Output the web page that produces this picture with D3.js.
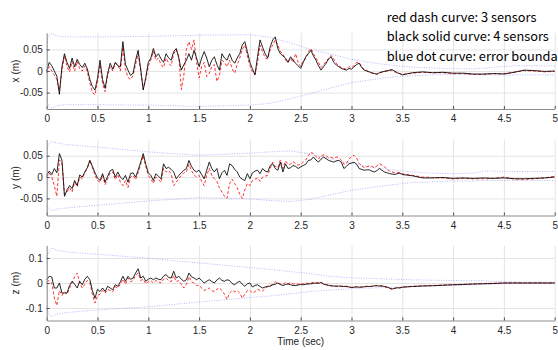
<!DOCTYPE html>
<html>
<head>
<meta charset="utf-8">
<script src="https://cdn.jsdelivr.net/npm/d3@7"></script>
<style>
body { margin: 0; background: #fff; }
svg { display: block; }
.tick text { font-family: "Liberation Sans", Arial, sans-serif; font-size: 10px; fill: #262626; }
.grid line { stroke: #e4e4e4; }
.grid .domain { display: none; }
.ax .domain { stroke: #8c8c8c; }
.ax .tick line { stroke: #4d4d4d; }
</style>
</head>
<body>
<div id="chart"></div>
<script>
var width = 558;
var height = 350;

// sample times: 0..3.5 every 0.025 s, then 3.6..5.0 every 0.1 s
const time = d3.range(141).map(i => i * 0.025).concat(d3.range(1, 16).map(i => 3.5 + i * 0.1));
// boundary sample times
const tBound = [0, 0.02, 0.05, 0.1, 0.2, 0.5, 1.0, 1.5, 2.0, 2.2, 2.4, 2.6, 2.8, 3.0, 3.2, 3.4, 3.6, 3.8, 4.0, 4.2, 4.3, 4.4, 4.6, 5.0];

const timeTicks = [0, 0.5, 1, 1.5, 2, 2.5, 3, 3.5, 4, 4.5, 5];
const ticksXY = [-0.05, 0, 0.05];
const ticksZ = [-0.1, 0, 0.1];
const notes = ["red dash curve: 3 sensors", "black solid curve: 4 sensors", "blue dot curve: error boundary"];

// ---- x (m) ----
const blackX = [
  0, .02, .012, 0, -.012, -.054, .01, .04, .02, .006,
  .03, .01, .027, .015, .008, .018, .005, -.02, -.036, -.044,
  -.017, .025, -.02, -.04, -.005, .018, .004, .02, .012, .01,
  .068, .015, .002, -.01, -.005, .025, .048, .005, -.044, -.015,
  .02, .03, .052, .033, .04, .028, .02, .04, .03, .025,
  .045, .052, .03, .002, .015, .025, .04, .025, .048, .03,
  .01, .03, .045, .03, .01, .025, .033, .015, .002, .04,
  .03, .025, .04, .025, .018, .03, .04, .06, .068, .045,
  .02, .005, -.009, .033, .072, .055, .04, .03, .056, .072,
  .079, .052, .04, .035, .03, .02, .033, .025, .018, .012,
  .006, .02, .033, .04, .048, .035, .025, .012, .002, .01,
  .018, .028, .033, .02, .014, .01, .006, .004, .002, .006,
  .004, .01, .015, .018, .008, .002, 0, -.002, -.004, -.006,
  -.007, -.004, -.002, -.001, 0, .002, .003, 0, -.004, -.006,
  -.009,
  -.004, -.002, -.004, -.003, -.005, -.005, -.007, -.007, -.006, -.007, -.003, .002, .001, -.001, 0
];
const redX = [
  -.005, .01, 0, -.01, -.02, -.045, 0, .035, .01, -.002,
  .022, 0, .022, .005, 0, .012, -.002, -.028, -.05, -.055,
  -.025, .015, -.03, -.048, -.01, .01, 0, .018, .015, 0,
  .055, .005, -.015, -.02, -.01, .015, .04, 0, -.042, -.02,
  .012, .025, .045, .025, .03, .015, .008, .03, .018, .012,
  .04, .05, .035, -.043, -.01, .05, .068, .05, .072, .02,
  -.016, .01, .02, -.013, -.005, .01, .015, -.024, -.01, .025,
  .02, .01, .025, .005, -.005, .015, .03, .05, .06, .035,
  .012, -.002, -.008, .02, .06, .045, .03, .028, .05, .06,
  .072, .06, .045, .04, .025, .02, .03, .02, .04, .02,
  .01, .025, .028, .045, .052, .04, .03, .02, .008, .015,
  .022, .03, .036, .028, .018, .012, .008, .006, .004, .01,
  .008, .012, .02, .02, .01, .004, .001, -.003, -.005, -.006,
  -.008, -.005, -.003, 0, .001, .002, .002, -.002, -.005, -.006,
  -.008,
  -.005, -.003, -.004, -.004, -.006, -.006, -.008, -.008, -.006, -.006, -.003, .001, 0, -.002, -.001
];
const upperX = [.066, .082, .087, .081, .079, .079, .080, .083, .084, .078, .065, .050, .039, .027, .019, .013, .009, .007, .005, .005, .006, .009, .012, .012];
const lowerX = [-.066, -.082, -.086, -.080, -.078, -.078, -.079, -.082, -.079, -.075, -.064, -.052, -.039, -.027, -.020, -.014, -.011, -.009, -.008, -.008, -.009, -.009, -.009, -.009];

// ---- y (m) ----
const blackY = [
  .004, .014, .006, .02, .01, .055, .04, -.045, -.03, -.02,
  -.027, -.008, -.02, .005, 0, .012, .022, .039, .025, .01,
  -.002, -.008, .008, -.012, .002, .015, .018, 0, .012, 0,
  -.006, .004, -.012, .008, .01, 0, .016, .035, .055, .03,
  .01, .004, -.008, .008, .002, -.004, .031, .02, .023, .018,
  .012, -.004, .004, .01, .016, .02, .039, .025, .016, .012,
  .016, .006, -.004, .016, .035, .02, .012, .02, -.004, .01,
  .016, .004, .031, .027, .018, .012, 0, -.005, -.008, .008,
  -.004, .01, .014, .016, .008, .02, .014, .012, .027, .031,
  .02, .016, .035, .012, .031, .02, .022, .027, .025, .02,
  .024, .027, .03, .039, .04, .047, .04, .035, .042, .047,
  .043, .039, .037, .035, .038, .039, .035, .02, .025, .031,
  .033, .035, .03, .02, .018, .016, .017, .017, .014, .012,
  .015, .02, .016, .012, .01, .008, .007, .006, .008, .009,
  .006,
  .003, -.002, -.002, -.001, -.003, -.002, -.003, -.002, -.003, -.002, -.004, -.004, -.003, -.002, 0
];
const redY = [
  0, .01, 0, -.02, -.045, .04, .035, -.04, -.035, -.025,
  -.035, -.012, -.022, 0, -.004, .01, .02, .04, .022, .005,
  -.008, -.012, .004, -.018, -.004, .01, .012, -.006, .006, -.012,
  -.02, -.008, -.025, 0, .004, -.006, .01, .03, .05, .025,
  .004, -.004, -.015, 0, -.006, -.012, .02, .012, .015, .008,
  -.02, -.012, -.004, .004, .01, .012, .03, .015, .005, 0,
  .004, -.01, -.02, .004, .02, .004, -.004, -.01, -.025, -.035,
  -.045, -.05, -.015, -.005, -.015, -.025, -.04, -.05, -.03, -.015,
  -.02, -.008, -.005, -.002, -.01, 0, .002, .004, .02, .035,
  .025, .022, .04, .02, .038, .03, .03, .036, .032, .028,
  .03, .035, .04, .05, .058, .055, .048, .042, .05, .052,
  .05, .045, .046, .044, .047, .045, .04, .03, .032, .042,
  .048, .051, .045, .032, .026, .022, .024, .026, .025, .022,
  .026, .031, .028, .024, .018, .014, .012, .01, .01, .011,
  .008,
  .004, 0, -.001, -.002, -.004, -.003, -.004, -.004, -.003, 0, -.004, -.005, -.004, -.002, .002
];
const upperY = [.066, .078, .083, .080, .076, .070, .059, .051, .056, .059, .061, .054, .042, .032, .023, .017, .012, .009, .008, .009, .014, .014, .013, .013];
const lowerY = [-.066, -.074, -.078, -.075, -.072, -.066, -.056, -.048, -.051, -.055, -.057, -.052, -.041, -.031, -.024, -.018, -.013, -.011, -.009, -.009, -.008, -.008, -.008, -.008];

// ---- z (m) ----
const blackZ = [
  .013, .027, .024, -.02, -.02, 0, -.04, -.04, -.04, -.01,
  .007, -.005, -.02, .007, -.007, .015, .027, .013, -.03, -.061,
  -.025, -.034, -.02, -.034, -.013, -.02, -.027, -.007, -.013, .005,
  .027, .007, .027, .015, .02, .04, .057, .02, .027, .007,
  .015, .02, .013, .02, .015, .013, .027, .034, .022, .02,
  .047, .02, .027, .015, .007, .013, .04, .025, .02, .013,
  .02, .01, 0, .007, .013, .006, 0, .012, .02, .01,
  .007, .013, .01, -.002, -.007, .002, .007, -.005, -.013, -.003,
  0, -.016, -.01, -.007, -.014, -.02, -.016, -.013, -.013, -.007,
  -.005, 0, -.006, -.01, -.006, -.004, -.007, -.01, -.01, -.008,
  -.006, -.007, -.005, -.004, -.003, -.002, 0, -.002, .002, -.005,
  -.007, -.009, -.011, -.012, -.013, -.012, -.013, -.014, -.013, -.016,
  -.018, -.017, -.016, -.017, -.016, -.015, -.013, -.014, -.013, -.011,
  -.011, -.012, -.011, -.014, -.016, -.02, -.024, -.021, -.019, -.02,
  -.017,
  -.014, -.012, -.011, -.009, -.007, -.006, -.004, -.003, -.002, 0, 0, 0, 0, 0, 0
];
const redZ = [
  .005, .01, 0, -.06, -.09, -.03, -.05, -.035, -.045, -.02,
  0, .025, .04, 0, -.02, -.005, .01, 0, -.045, -.08,
  -.05, -.045, -.03, -.04, -.025, -.03, -.035, -.015, -.02, -.005,
  .015, -.005, .02, .005, .01, .03, .04, .01, .015, -.003,
  .005, .01, 0, .01, .005, 0, .015, .02, .01, .005,
  .03, .005, .01, -.005, -.02, -.005, .025, .005, 0, -.01,
  -.01, -.02, -.03, -.025, -.02, -.03, -.035, -.025, -.02, -.03,
  -.045, -.066, -.04, -.03, -.035, -.03, -.04, -.06, -.045, -.03,
  -.03, -.04, -.035, -.025, -.03, -.032, -.022, -.015, -.01, -.005,
  .005, 0, -.004, -.006, .002, -.003, .002, -.004, -.003, -.005,
  -.002, -.004, 0, -.002, 0, .003, .001, .002, .004, -.003,
  -.006, -.01, -.011, -.013, -.012, -.014, -.013, -.012, -.015, -.016,
  -.017, -.016, -.014, -.016, -.017, -.016, -.014, -.015, -.013, -.012,
  -.01, -.012, -.013, -.015, -.018, -.022, -.025, -.022, -.018, -.019,
  -.016,
  -.013, -.011, -.01, -.008, -.007, -.005, -.004, -.002, -.001, 0, .001, 0, .001, 0, 0
];
const upperZ = [.100, .125, .140, .132, .124, .115, .099, .080, .062, .054, .046, .037, .026, .021, .018, .015, .013, .011, .010, .009, .009, .006, .004, .003];
const lowerZ = [-.095, -.125, -.135, -.125, -.118, -.108, -.095, -.076, -.058, -.052, -.043, -.034, -.028, -.023, -.020, -.017, -.014, -.011, -.009, -.007, -.006, -.004, -.002, -.001];

const panels = [
  {label: "x (m)", top: 33, h: 76, dom: [-0.088, 0.088], ticks: ticksXY, red: redX, black: blackX, up: upperX, lo: lowerX},
  {label: "y (m)", top: 139.5, h: 76, dom: [-0.09, 0.088], ticks: ticksXY, red: redY, black: blackY, up: upperY, lo: lowerY},
  {label: "z (m)", top: 245.5, h: 75, dom: [-0.15, 0.15], ticks: ticksZ, red: redZ, black: blackZ, up: upperZ, lo: lowerZ}
];

var svg = d3.select("#chart").append("svg")
  .attr("width", width).attr("height", height);

let x = d3.scaleLinear().domain([0, 5]).range([46.7, 554.7]);

panels.forEach(p => {
  let y = d3.scaleLinear().domain(p.dom).range([p.top + p.h, p.top]);
  let g = svg.append("g");

  // grid
  g.append("g").attr("class", "grid").attr("transform", `translate(0,${p.top + p.h})`)
    .call(d3.axisBottom(x).tickValues(timeTicks).tickSize(-p.h).tickFormat(""));
  g.append("g").attr("class", "grid").attr("transform", `translate(${x(0)},0)`)
    .call(d3.axisLeft(y).tickValues(p.ticks).tickSize(-(x(5) - x(0))).tickFormat(""));

  let line = d3.line().x((d, i) => x(time[i])).y(d => y(d));
  let bline = d3.line().x((d, i) => x(tBound[i])).y(d => y(d));

  [p.up, p.lo].forEach(b => {
    g.append("path").datum(b).attr("d", bline)
      .attr("fill", "none").attr("stroke", "#7d7dff").attr("stroke-width", 0.7)
      .attr("stroke-dasharray", "1,1.5").attr("opacity", 0.8);
  });
  g.append("path").datum(p.red).attr("d", line)
    .attr("fill", "none").attr("stroke", "#ff0000").attr("stroke-width", 0.8)
    .attr("stroke-dasharray", "3,2");
  g.append("path").datum(p.black).attr("d", line)
    .attr("fill", "none").attr("stroke", "#000").attr("stroke-width", 0.85);

  // axes, ticks pointing inward
  g.append("g").attr("class", "ax").attr("transform", `translate(0,${p.top + p.h})`)
    .call(d3.axisBottom(x).tickValues(timeTicks).tickSizeInner(-3).tickSizeOuter(0).tickPadding(6).tickFormat(d => String(d)));
  g.append("g").attr("class", "ax").attr("transform", `translate(${x(0)},0)`)
    .call(d3.axisLeft(y).tickValues(p.ticks).tickSizeInner(-3).tickSizeOuter(0).tickPadding(4).tickFormat(d => String(d)));

  g.append("text")
    .attr("transform", `translate(15,${p.top + p.h / 2}) rotate(-90)`)
    .attr("dy", "0.35em").attr("text-anchor", "middle")
    .style("font-family", "'Liberation Sans', Arial, sans-serif").style("font-size", "10px")
    .attr("fill", "#262626").text(p.label);
});

svg.append("text").attr("x", x(2.5)).attr("y", 345).attr("text-anchor", "middle")
  .style("font-family", "'Liberation Sans', Arial, sans-serif").style("font-size", "10px")
  .attr("fill", "#262626").text("Time (sec)");

svg.selectAll(".note").data(notes).join("text")
  .attr("class", "note")
  .attr("x", 386.7).attr("y", (d, i) => 21.5 + i * 19.5)
  .style("font-family", "'Noto Sans CJK SC', 'Noto Sans', sans-serif").style("font-size", "12.8px")
  .attr("fill", "#000").text(d => d);
</script>
</body>
</html>
